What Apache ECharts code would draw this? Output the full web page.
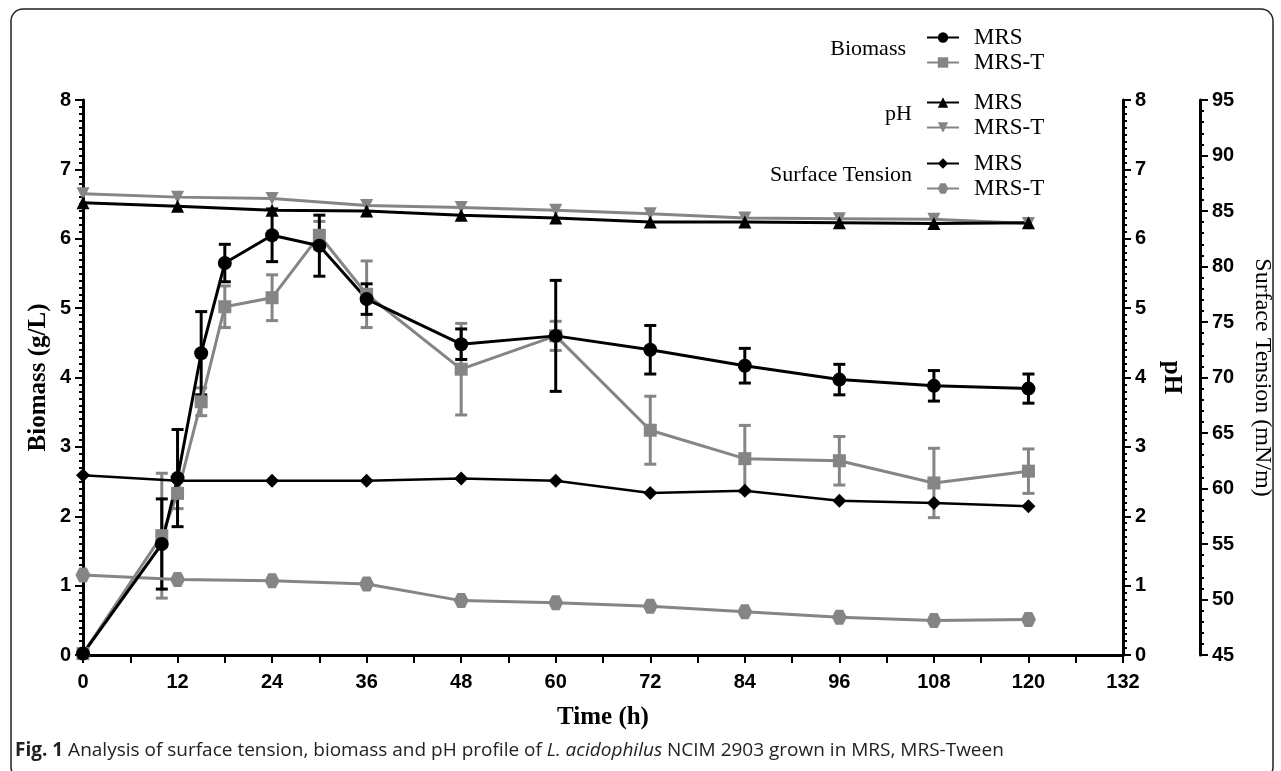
<!DOCTYPE html>
<html lang="en">
<head>
    <meta charset="UTF-8">
    <title>Biomass, pH and surface tension</title>
    <style>
        *{ margin: 0; padding: 0;}
        body{ background: #fff;}
        #chart{ width: 1281px; height: 771px;}
    </style>
    <script src="https://cdn.jsdelivr.net/npm/echarts@6/dist/echarts.min.js"></script>
</head>
<body>
    <div id="chart"></div>
    <script>
        // sampling times (h)
        var hours = [0, 12, 24, 36, 48, 60, 72, 84, 96, 108, 120];
        var bioHours = [0, 10, 12, 15, 18, 24, 30, 36, 48, 60, 72, 84, 96, 108, 120];

        // biomass (g/L) with error bars
        var bioMRS = [0.02, 1.6, 2.55, 4.35, 5.65, 6.05, 5.9, 5.13, 4.48, 4.6, 4.4, 4.17, 3.97, 3.88, 3.84];
        var bioMRSErr = [0, 0.65, 0.7, 0.6, 0.27, 0.38, 0.44, 0.22, 0.22, 0.8, 0.35, 0.25, 0.22, 0.22, 0.21];
        var bioMRST = [0.02, 1.72, 2.33, 3.65, 5.02, 5.15, 6.05, 5.2, 4.12, 4.6, 3.24, 2.83, 2.8, 2.48, 2.65];
        var bioMRSTErr = [0, 0.9, 0.22, 0.2, 0.3, 0.33, 0.2, 0.48, 0.66, 0.21, 0.49, 0.48, 0.35, 0.5, 0.32];

        // pH
        var phMRS = [6.52, 6.47, 6.41, 6.4, 6.34, 6.3, 6.24, 6.24, 6.23, 6.22, 6.23];
        var phMRST = [6.65, 6.6, 6.58, 6.48, 6.45, 6.41, 6.36, 6.3, 6.29, 6.28, 6.22];

        // surface tension (mN/m)
        var stMRS = [61.2, 60.7, 60.7, 60.7, 60.9, 60.7, 59.6, 59.8, 58.9, 58.7, 58.4];
        var stMRST = [52.2, 51.8, 51.7, 51.4, 49.9, 49.7, 49.4, 48.9, 48.4, 48.1, 48.2];

        var BLACK = '#000';
        var GRAY = '#858585';
        var hexagon = 'path://M-10,0 L-5,-8.66 L5,-8.66 L10,0 L5,8.66 L-5,8.66Z';

        function pairs(xs, ys) {
            return xs.map(function (x, i) { return [x, ys[i]]; });
        }
        function errData(xs, ys, es) {
            return xs.map(function (x, i) { return [x, ys[i], es[i]]; });
        }
        function errSeries(data, color) {
            return {
                type: 'custom',
                yAxisIndex: 0,
                z: 1,
                silent: true,
                encode: { x: 0, y: 1 },
                data: data,
                renderItem: function (params, api) {
                    var x = api.value(0), y = api.value(1), e = api.value(2);
                    if (!e) return null;
                    var top = api.coord([x, y + e]);
                    var bot = api.coord([x, y - e]);
                    var w = 6;
                    var st = { stroke: color, lineWidth: 3 };
                    return {
                        type: 'group',
                        children: [
                            { type: 'line', shape: { x1: top[0], y1: top[1], x2: bot[0], y2: bot[1] }, style: st },
                            { type: 'line', shape: { x1: top[0] - w, y1: top[1], x2: top[0] + w, y2: top[1] }, style: st },
                            { type: 'line', shape: { x1: bot[0] - w, y1: bot[1], x2: bot[0] + w, y2: bot[1] }, style: st }
                        ]
                    };
                }
            };
        }
        function lineSeries(name, axis, data, color, symbol, size, width, rotate) {
            return {
                name: name,
                type: 'line',
                yAxisIndex: axis,
                data: data,
                z: 3,
                symbol: symbol,
                symbolSize: size,
                symbolRotate: rotate || 0,
                showAllSymbol: true,
                itemStyle: { color: color },
                lineStyle: { color: color, width: width },
                animation: false
            };
        }

        var axisLabel = { color: BLACK, fontFamily: 'Liberation Sans', fontWeight: 'bold', fontSize: 20 };
        var axisName = { color: BLACK, fontFamily: 'Liberation Serif', fontWeight: 'bold', fontSize: 25 };
        var legendText = { color: BLACK, fontFamily: 'Liberation Serif', fontSize: 23, lineHeight: 25, padding: [0, 0, 0, 10] };

        function legend(top, names) {
            return {
                left: 926, top: top, orient: 'vertical', padding: 0,
                itemWidth: 32, itemHeight: 13, itemGap: 0,
                data: names,
                textStyle: legendText,
                formatter: function (n) { return n.split(' ').pop(); }
            };
        }

        function yAxis(opt) {
            return Object.assign({
                type: 'value',
                splitLine: { show: false },
                axisLine: { show: true, lineStyle: { color: BLACK, width: 3 } },
                axisTick: { show: true, length: 8, lineStyle: { color: BLACK, width: 2 } },
                minorTick: { show: true, splitNumber: 10, length: 4, lineStyle: { color: BLACK, width: 2 } },
                axisLabel: Object.assign({ margin: 12 }, axisLabel),
                nameLocation: 'middle',
                nameMoveOverlap: false,
                nameTextStyle: axisName
            }, opt);
        }

        var chart = echarts.init(document.getElementById('chart'));
        chart.setOption({
            animation: false,
            grid: { left: 83, right: 158, top: 100, bottom: 116, outerBoundsMode: 'none', containLabel: false },
            legend: [
                legend(25, ['Biomass MRS', 'Biomass MRS-T']),
                legend(90, ['pH MRS', 'pH MRS-T']),
                legend(151, ['Surface Tension MRS', 'Surface Tension MRS-T'])
            ],
            xAxis: {
                type: 'value', min: 0, max: 132, interval: 12,
                splitLine: { show: false },
                axisLine: { lineStyle: { color: BLACK, width: 3 } },
                axisTick: { show: true, length: 8, lineStyle: { color: BLACK, width: 2 } },
                minorTick: { show: true, splitNumber: 2, length: 8, lineStyle: { color: BLACK, width: 2 } },
                axisLabel: Object.assign({ margin: 17 }, axisLabel),
                name: 'Time (h)', nameLocation: 'middle', nameGap: 50, nameMoveOverlap: false,
                nameTextStyle: axisName
            },
            yAxis: [
                yAxis({ min: 0, max: 8, interval: 1, position: 'left', name: 'Biomass (g/L)', nameGap: 32 }),
                yAxis({ min: 0, max: 8, interval: 1, position: 'right', name: 'pH', nameGap: 36, nameRotate: -90 }),
                yAxis({ min: 45, max: 95, interval: 5, position: 'right', offset: 77,
                    minorTick: { show: true, splitNumber: 5, length: 4, lineStyle: { color: BLACK, width: 2 } },
                    name: 'Surface Tension (mN/m)', nameGap: 50, nameRotate: -90,
                    nameTextStyle: Object.assign({}, axisName, { fontWeight: 'normal', fontSize: 24 }) })
            ],
            graphic: [
                { type: 'rect', shape: { x: 11, y: 9, width: 1262, height: 770, r: 12 },
                  style: { fill: 'none', stroke: '#222', lineWidth: 1.5 }, silent: true },
                { type: 'text', right: 1281 - 906, top: 38,
                  style: { text: 'Biomass', fill: BLACK, font: '22px "Liberation Serif"' } },
                { type: 'text', right: 1281 - 912, top: 103,
                  style: { text: 'pH', fill: BLACK, font: '22px "Liberation Serif"' } },
                { type: 'text', right: 1281 - 912, top: 164,
                  style: { text: 'Surface Tension', fill: BLACK, font: '22px "Liberation Serif"' } },
                { type: 'text', left: 15, top: 741,
                  style: {
                      text: '{b|Fig. 1} Analysis of surface tension, biomass and pH profile of {i|L. acidophilus} NCIM 2903 grown in MRS, MRS-Tween',
                      fill: '#222', font: '19px "Open Sans"',
                      rich: {
                          b: { fontWeight: 'bold', fontSize: 19, fontFamily: 'Open Sans', fill: '#222' },
                          i: { fontStyle: 'italic', fontSize: 19, fontFamily: 'Open Sans', fill: '#222' }
                      }
                  } }
            ],
            series: [
                errSeries(errData(bioHours, bioMRST, bioMRSTErr), GRAY),
                errSeries(errData(bioHours, bioMRS, bioMRSErr), BLACK),
                lineSeries('Surface Tension MRS-T', 2, pairs(hours, stMRST), GRAY, hexagon, 15, 3),
                lineSeries('Surface Tension MRS', 2, pairs(hours, stMRS), BLACK, 'diamond', 14, 2.5),
                lineSeries('pH MRS-T', 1, pairs(hours, phMRST), GRAY, 'triangle', 13, 3, 180),
                lineSeries('pH MRS', 1, pairs(hours, phMRS), BLACK, 'triangle', 13, 3),
                lineSeries('Biomass MRS-T', 0, pairs(bioHours, bioMRST), GRAY, 'rect', 13, 3),
                lineSeries('Biomass MRS', 0, pairs(bioHours, bioMRS), BLACK, 'circle', 14, 3)
            ]
        });
    </script>
</body>
</html>
